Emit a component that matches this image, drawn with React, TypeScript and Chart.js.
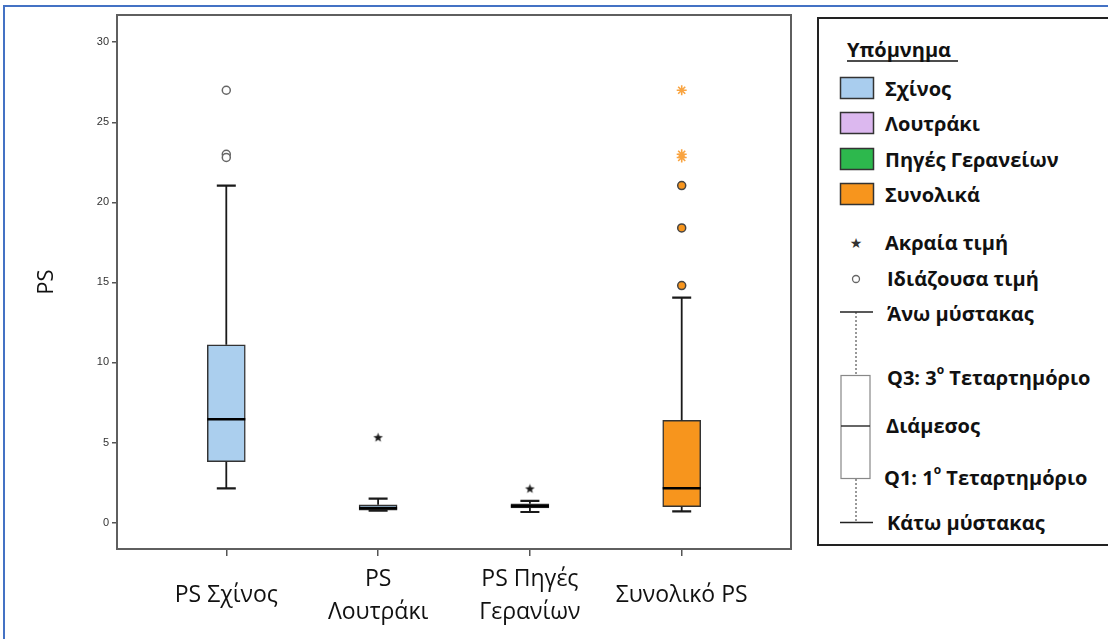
import { useEffect, useRef } from "react";
import { Chart, registerables } from "chart.js";

Chart.register(...registerables);

// Groups on the horizontal axis (multi-line labels are arrays)
const categories: string[][] = [
  ["PS Σχίνος"],
  ["PS", "Λουτράκι"],
  ["PS Πηγές", "Γερανίων"],
  ["Συνολικό PS"],
];

// Five-number summaries per group
const whiskerLow = [2.14, 0.74, 0.66, 0.7];
const quartile1 = [3.8, 0.78, 0.92, 0.99];
const medians = [6.45, 0.9, 1.03, 2.14];
const quartile3 = [11.1, 1.11, 1.17, 6.39];
const whiskerHigh = [21.05, 1.49, 1.36, 14.05];

// Outliers (circles) and extreme values (stars)
const schinosOutliers = [27.0, 23.0, 22.8];
const loutrakiExtremes = [5.3];
const geraniaExtremes = [2.1];
const totalExtremes = [27.0, 23.0, 22.8];
const totalOutliers = [21.05, 18.4, 14.8];

const yTickValues = [0, 5, 10, 15, 20, 25, 30];

const BLUE = "#abcfee";
const ORANGE = "#f7951d";
const boxFills = [BLUE, BLUE, "#2db84d", ORANGE];

const LABEL_FONT = "'Open Sans', 'Noto Sans', sans-serif";

function makeFilledStar(size: number, color: string): HTMLCanvasElement {
  const c = document.createElement("canvas");
  c.width = size;
  c.height = size;
  const g = c.getContext("2d")!;
  const cx = size / 2;
  const cy = size / 2;
  const outer = size / 2 - 0.5;
  const inner = outer * 0.42;
  g.beginPath();
  for (let k = 0; k < 10; k++) {
    const r = k % 2 === 0 ? outer : inner;
    const a = -Math.PI / 2 + (k * Math.PI) / 5;
    const px = cx + r * Math.cos(a);
    const py = cy + r * Math.sin(a);
    if (k === 0) g.moveTo(px, py);
    else g.lineTo(px, py);
  }
  g.closePath();
  g.fillStyle = color;
  g.fill();
  return c;
}

// Whiskers, caps and median lines drawn from the scales
const boxPlotLines = {
  id: "boxPlotLines",
  afterDatasetsDraw(chart: any) {
    const { ctx } = chart;
    const xs = chart.scales.x;
    const ys = chart.scales.y;
    const halfBox = 19;
    const halfCap = 9.5;
    ctx.save();
    categories.forEach((_, i) => {
      const cx = xs.getPixelForValue(i);
      const yLo = ys.getPixelForValue(whiskerLow[i]);
      const yQ1 = ys.getPixelForValue(quartile1[i]);
      const yQ3 = ys.getPixelForValue(quartile3[i]);
      const yHi = ys.getPixelForValue(whiskerHigh[i]);
      const yMed = ys.getPixelForValue(medians[i]);
      ctx.strokeStyle = "#1a1a1a";
      ctx.lineWidth = 1.8;
      ctx.beginPath();
      ctx.moveTo(cx, yQ3);
      ctx.lineTo(cx, yHi);
      ctx.moveTo(cx, yQ1);
      ctx.lineTo(cx, yLo);
      ctx.stroke();
      ctx.lineWidth = 2.2;
      ctx.beginPath();
      ctx.moveTo(cx - halfCap, yHi);
      ctx.lineTo(cx + halfCap, yHi);
      ctx.moveTo(cx - halfCap, yLo);
      ctx.lineTo(cx + halfCap, yLo);
      ctx.stroke();
      ctx.strokeStyle = "#000";
      ctx.lineWidth = 2.6;
      ctx.beginPath();
      ctx.moveTo(cx - halfBox, yMed);
      ctx.lineTo(cx + halfBox, yMed);
      ctx.stroke();
    });
    ctx.restore();
  },
};

// Frame around the plotting area
const plotFrame = {
  id: "plotFrame",
  afterDraw(chart: any) {
    const { ctx, chartArea } = chart;
    ctx.save();
    ctx.strokeStyle = "#5f5f5f";
    ctx.lineWidth = 2;
    ctx.strokeRect(
      chartArea.left,
      chartArea.top,
      chartArea.right - chartArea.left,
      chartArea.bottom - chartArea.top
    );
    ctx.restore();
  },
};

function BoxPlot() {
  const ref = useRef<HTMLCanvasElement>(null);

  useEffect(() => {
    const canvas = ref.current;
    if (!canvas) return;
    const blackStar = makeFilledStar(11, "#1a1a1a");

    const chart = new Chart(canvas, {
      type: "bar",
      data: {
        datasets: [
          {
            type: "bar",
            data: categories.map((_, i) => ({ x: i, y: [quartile1[i], quartile3[i]] })) as any,
            backgroundColor: boxFills,
            borderColor: "#333",
            borderWidth: 1.5,
            borderSkipped: false,
            barThickness: 38,
            order: 2,
          },
          {
            type: "scatter",
            data: schinosOutliers.map((v) => ({ x: 0, y: v })),
            pointStyle: "circle",
            pointRadius: 4,
            backgroundColor: "#fff",
            borderColor: "#666",
            borderWidth: 1.5,
            order: 1,
          },
          {
            type: "scatter",
            data: [
              ...loutrakiExtremes.map((v) => ({ x: 1, y: v })),
              ...geraniaExtremes.map((v) => ({ x: 2, y: v })),
            ],
            pointStyle: blackStar,
            order: 1,
          },
          {
            type: "scatter",
            data: totalExtremes.map((v) => ({ x: 3, y: v })),
            pointStyle: "star",
            pointRadius: 5,
            borderColor: "#f9a441",
            backgroundColor: "#f9a441",
            borderWidth: 1.6,
            order: 1,
          },
          {
            type: "scatter",
            data: totalOutliers.map((v) => ({ x: 3, y: v })),
            pointStyle: "circle",
            pointRadius: 4,
            backgroundColor: ORANGE,
            borderColor: "#444",
            borderWidth: 1.5,
            order: 1,
          },
        ],
      },
      options: {
        responsive: false,
        animation: false,
        events: [],
        layout: { padding: { top: 15, right: 9, left: 0, bottom: 0 } },
        plugins: {
          legend: { display: false },
          tooltip: { enabled: false },
        },
        scales: {
          x: {
            type: "linear",
            min: -0.72,
            max: 3.72,
            offset: false,
            afterFit: (s: any) => {
              s.height = 90;
            },
            afterBuildTicks: (s: any) => {
              s.ticks = categories.map((_, i) => ({ value: i }));
            },
            border: { display: false },
            grid: {
              offset: false,
              drawOnChartArea: false,
              drawTicks: true,
              tickLength: 7,
              color: "#555",
              lineWidth: 1.5,
            },
            ticks: {
              autoSkip: false,
              maxRotation: 0,
              minRotation: 0,
              crossAlign: "center",
              padding: 23,
              color: "#111",
              font: { family: LABEL_FONT, size: 23, lineHeight: 1.435 },
              callback: (v: any) => categories[Math.round(Number(v))] ?? "",
            },
          },
          y: {
            type: "linear",
            min: -1.65,
            max: 31.7,
            afterFit: (s: any) => {
              s.width = 117;
            },
            afterBuildTicks: (s: any) => {
              s.ticks = yTickValues.map((v) => ({ value: v }));
            },
            border: { display: false },
            grid: {
              drawOnChartArea: false,
              drawTicks: true,
              tickLength: 5,
              color: "#555",
              lineWidth: 1.5,
            },
            ticks: {
              padding: 3,
              color: "#333",
              font: { family: "'Liberation Sans', Arial, sans-serif", size: 11 },
            },
            title: {
              display: true,
              text: "PS",
              color: "#111",
              font: { family: LABEL_FONT, size: 22 },
              padding: { top: 34, bottom: 0 },
            },
          },
        },
      },
      plugins: [boxPlotLines, plotFrame],
    });
    return () => chart.destroy();
  }, []);

  return (
    <canvas
      ref={ref}
      width={800}
      height={639}
      style={{ position: "absolute", left: 0, top: 0, width: 800, height: 639 }}
    />
  );
}

const legendSwatches = [
  { label: "Σχίνος", color: "#a9cdee", y: 88 },
  { label: "Λουτράκι", color: "#dcb8ef", y: 123 },
  { label: "Πηγές Γερανείων", color: "#2db84d", y: 159 },
  { label: "Συνολικά", color: "#f7951d", y: 194 },
];

function Legend() {
  const t = {
    fontFamily: LABEL_FONT,
    fontWeight: 700,
    fontSize: 20,
    fill: "#111",
    dominantBaseline: "central" as const,
  };
  return (
    <svg
      width={1108}
      height={639}
      style={{ position: "absolute", left: 0, top: 0 }}
    >
      <path d="M4 640 V6 H1110" stroke="#4472c4" strokeWidth={2} fill="none" />
      <rect x={818} y={18} width={300} height={527} fill="#fff" stroke="#222" strokeWidth={2} />
      <text x={847} y={49} {...t}>Υπόμνημα</text>
      <line x1={847} y1={61} x2={958} y2={61} stroke="#111" strokeWidth={1.6} />
      {legendSwatches.map((s) => (
        <g key={s.label}>
          <rect x={840.5} y={s.y - 10.5} width={33} height={21} fill={s.color} stroke="#333" strokeWidth={1.5} />
          <text x={885} y={s.y} {...t}>{s.label}</text>
        </g>
      ))}
      <text x={856} y={243} textAnchor="middle" dominantBaseline="central" fontSize={14} fill="#333" fontFamily="DejaVu Sans">★</text>
      <text x={885} y={242} {...t}>Ακραία τιμή</text>
      <circle cx={856} cy={279} r={3.5} fill="#fff" stroke="#666" strokeWidth={1.3} />
      <text x={887} y={278} {...t}>Ιδιάζουσα τιμή</text>
      <line x1={840} y1={312} x2={873} y2={312} stroke="#222" strokeWidth={1.5} />
      <line x1={856} y1={312} x2={856} y2={375} stroke="#333" strokeWidth={1} strokeDasharray="2 2" />
      <rect x={841} y={375.5} width={29} height={103} fill="#fff" stroke="#888" strokeWidth={1.2} />
      <line x1={841} y1={426} x2={870} y2={426} stroke="#333" strokeWidth={1.5} />
      <line x1={856} y1={479} x2={856} y2={522} stroke="#333" strokeWidth={1} strokeDasharray="2 2" />
      <line x1={840} y1={522.5} x2={873} y2={522.5} stroke="#222" strokeWidth={1.5} />
      <text x={887} y={313} {...t}>Άνω μύστακας</text>
      <text x={887} y={377} {...t}>
        Q3: 3<tspan fontSize={12} dy={-8}>ο</tspan>
        <tspan dy={8}> Τεταρτημόριο</tspan>
      </text>
      <text x={886} y={425} {...t}>Διάμεσος</text>
      <text x={884} y={477} {...t}>
        Q1: 1<tspan fontSize={12} dy={-8}>ο</tspan>
        <tspan dy={8}> Τεταρτημόριο</tspan>
      </text>
      <text x={887} y={522} {...t}>Κάτω μύστακας</text>
    </svg>
  );
}

export default function App() {
  return (
    <div
      style={{
        position: "absolute",
        left: 0,
        top: 0,
        width: 1108,
        height: 639,
        background: "#fff",
        overflow: "hidden",
      }}
    >
      <Legend />
      <BoxPlot />
    </div>
  );
}
